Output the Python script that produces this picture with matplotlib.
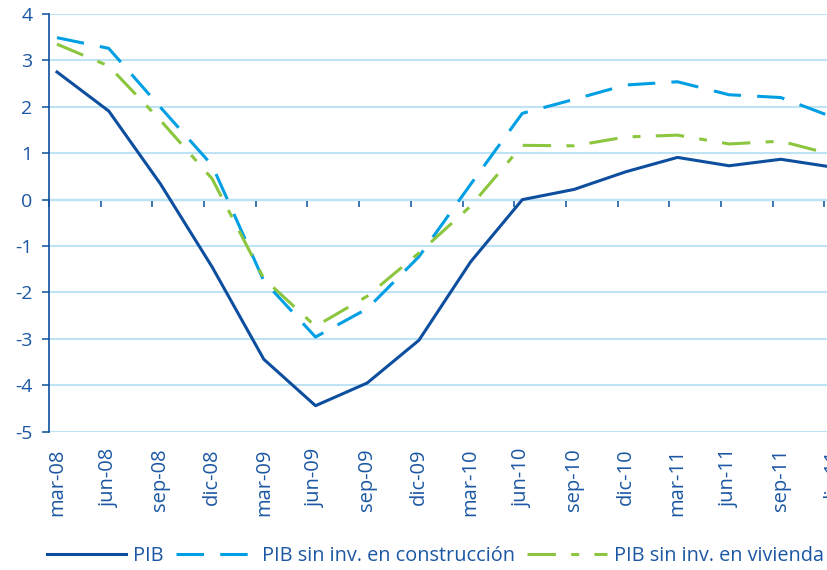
import numpy as np
import matplotlib
matplotlib.use("Agg")
import matplotlib.pyplot as plt

categories = ["mar-08", "jun-08", "sep-08", "dic-08", "mar-09", "jun-09", "sep-09", "dic-09",
              "mar-10", "jun-10", "sep-10", "dic-10", "mar-11", "jun-11", "sep-11", "dic-11"]
pib = [2.75, 1.91, 0.34, -1.45, -3.44, -4.44, -3.95, -3.03, -1.34, 0.00, 0.22, 0.60, 0.91, 0.73, 0.87, 0.70]
pib_sin_construccion = [3.49, 3.26, 1.99, 0.74, -1.75, -2.96, -2.35, -1.23, 0.33, 1.86, 2.16, 2.47, 2.54, 2.26, 2.20, 1.78]
pib_sin_vivienda = [3.35, 2.88, 1.71, 0.45, -1.70, -2.73, -2.08, -1.15, -0.14, 1.17, 1.16, 1.35, 1.39, 1.20, 1.26, 0.97]
yticks = [-5, -4, -3, -2, -1, 0, 1, 2, 3, 4]
labels = ["PIB", "PIB sin inv. en construcción", "PIB sin inv. en vivienda"]

plt.rcParams['font.family'] = ['Open Sans', 'DejaVu Sans']

DARK = "#0D4E9F"
LIGHT = "#009FE3"
GREEN = "#8CC63F"
GRID = "#BDE3F5"
TEXT = "#1B57A3"

fig = plt.figure(figsize=(8.28, 5.70), dpi=100)
ax = fig.add_axes([49/828, 1 - 431.7/570, 0.965, (431.7 - 14)/570])

x = np.arange(len(categories))
lw = 2.2
ax.plot(x, pib, color=DARK, lw=lw, solid_joinstyle='round', label=labels[0], zorder=4)
ax.plot(x, pib_sin_construccion, color=LIGHT, lw=lw, linestyle=(0, (9, 5.3)), label=labels[1], zorder=3)
ax.plot(x, pib_sin_vivienda, color=GREEN, lw=lw, linestyle=(0, (9.3, 5, 2.6, 5)), label=labels[2], zorder=3)

ax.set_xlim(-0.155, 15.3)
ax.set_ylim(-5, 4)
ax.set_yticks(yticks)
ax.set_yticklabels([str(v) for v in yticks])
ax.yaxis.grid(True, color=GRID, lw=1.5)
ax.set_axisbelow(True)

for s in ["top", "right", "bottom"]:
    ax.spines[s].set_visible(False)
ax.spines["left"].set_color(DARK)
ax.spines["left"].set_linewidth(1.2)

ax.tick_params(axis='y', colors=DARK, labelcolor=TEXT, length=5, width=1.1, pad=7, labelsize=14)
ax.set_xticks(x)
ax.set_xticklabels(categories, rotation=90, color=TEXT, fontsize=14.5)
ax.tick_params(axis='x', length=0, pad=12)

# horizontal category axis crossing at zero
sec = ax.secondary_xaxis(5/9)
sec.set_xticks(x - 0.155)
sec.set_xticklabels([""] * len(categories))
sec.tick_params(axis='x', colors=DARK, length=5, width=1.1, direction='in')
for sp in sec.spines.values():
    sp.set_color(DARK)
    sp.set_linewidth(1.5)

leg = fig.legend(loc='center left', bbox_to_anchor=(47/828, 1 - 556/570), ncol=3, frameon=False,
                 fontsize=14.3, handlelength=4.0, handletextpad=0.35, columnspacing=0.6,
                 borderpad=0, borderaxespad=0)
for t in leg.get_texts():
    t.set_color(TEXT)

fig.savefig("out.png", dpi=100)
